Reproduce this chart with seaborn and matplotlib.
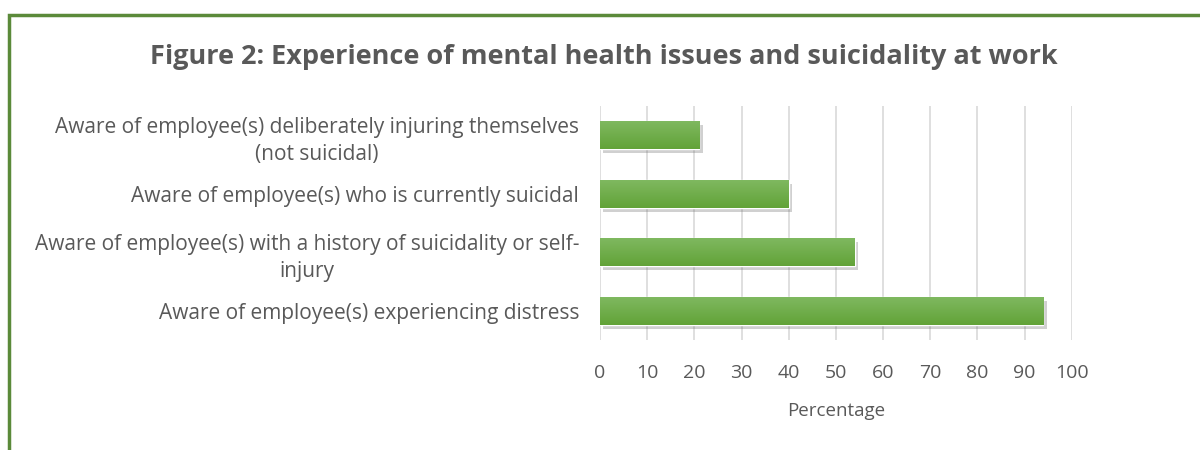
import matplotlib
matplotlib.use("Agg")
import matplotlib.pyplot as plt
import matplotlib.patheffects as pe
from matplotlib.patches import Rectangle
import numpy as np
import pandas as pd
import seaborn as sns

categories = [
    "Aware of employee(s) deliberately injuring themselves\n(not suicidal)",
    "Aware of employee(s) who is currently suicidal",
    "Aware of employee(s) with a history of suicidality or self-\ninjury",
    "Aware of employee(s) experiencing distress",
]
values = [21, 40, 54, 94]
x_ticks = [0, 10, 20, 30, 40, 50, 60, 70, 80, 90, 100]
title = "Figure 2: Experience of mental health issues and suicidality at work"
x_label = "Percentage"

sns.set_theme(style="white")
plt.rcParams['font.family'] = ['Open Sans', 'DejaVu Sans']

TEXT = "#595959"
BAR = "#6aab45"

df = pd.DataFrame({"cat": categories, "val": values})

fig = plt.figure(figsize=(12, 4.5), dpi=100)
ax = fig.add_axes([0.5, 0.2444, 0.3931, 0.52])

sns.barplot(data=df, x="val", y="cat", orient="h", color=BAR, width=0.48,
            saturation=1, ax=ax)

# gradient + soft shadow on bars
for p in ax.patches:
    p.set_path_effects([pe.SimplePatchShadow(offset=(2.5, -3), shadow_rgbFace="#666666", alpha=0.3),
                        pe.Normal()])
    x0, y0 = p.get_x(), p.get_y()
    w, h = p.get_width(), p.get_height()
    grad = np.linspace(0, 1, 50).reshape(-1, 1)
    cmap = matplotlib.colors.LinearSegmentedColormap.from_list("g", ["#80b961", "#62a338"])
    im = ax.imshow(grad, extent=[x0, x0 + w, y0 + h, y0], aspect="auto", cmap=cmap,
                   origin="upper", zorder=p.get_zorder() + 0.1)
    im.set_clip_path(p)

ax.set_xlim(0, 100)
ax.set_ylim(3.5, -0.5)
ax.set_xticks(x_ticks)
ax.set_xticklabels([str(t) for t in x_ticks], fontsize=14, color=TEXT)
ax.tick_params(axis="y", labelsize=15, labelcolor=TEXT, length=0, pad=15)
ax.tick_params(axis="x", length=0, pad=17)
for lbl in ax.get_yticklabels():
    lbl.set_multialignment("center")
    lbl.set_linespacing(1.42)
ax.set_ylabel("")
ax.set_xlabel(x_label, fontsize=13.5, color=TEXT, labelpad=15)
ax.grid(axis="x", color="#d9d9d9", linewidth=1.2)
ax.set_axisbelow(True)
for s in ax.spines.values():
    s.set_visible(False)

fig.text(0.503, 0.873, title, ha="center", va="center", fontsize=19.5, fontweight="bold", color=TEXT)

# green frame
frame = Rectangle((9 / 1200, -0.1), 1.2, 1 - 15 / 450 + 0.1, transform=fig.transFigure,
                  fill=False, edgecolor="#5b8a3a", linewidth=2.5)
fig.patches.append(frame)

fig.savefig("out.png", dpi=100)
